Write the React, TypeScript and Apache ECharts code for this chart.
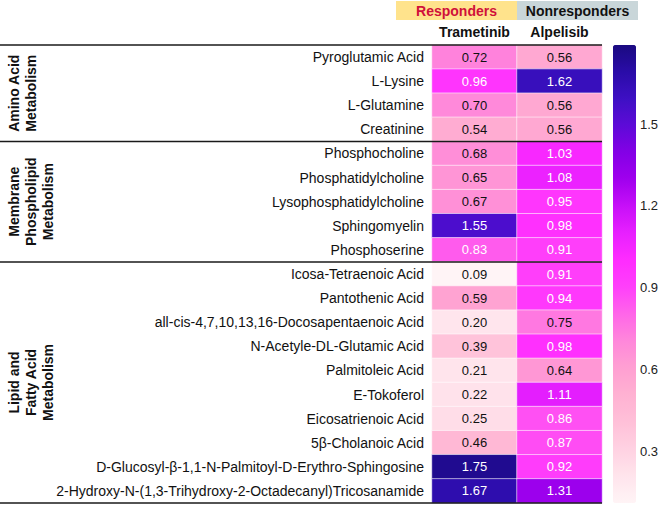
import React, { useEffect, useRef } from 'react';
import * as echarts from 'echarts';

const metabolites = [
  'Pyroglutamic Acid',
  'L-Lysine',
  'L-Glutamine',
  'Creatinine',
  'Phosphocholine',
  'Phosphatidylcholine',
  'Lysophosphatidylcholine',
  'Sphingomyelin',
  'Phosphoserine',
  'Icosa-Tetraenoic Acid',
  'Pantothenic Acid',
  'all-cis-4,7,10,13,16-Docosapentaenoic Acid',
  'N-Acetyle-DL-Glutamic Acid',
  'Palmitoleic Acid',
  'E-Tokoferol',
  'Eicosatrienoic Acid',
  '5β-Cholanoic Acid',
  'D-Glucosyl-β-1,1-N-Palmitoyl-D-Erythro-Sphingosine',
  '2-Hydroxy-N-(1,3-Trihydroxy-2-Octadecanyl)Tricosanamide',
];
const trametinib = [0.72, 0.96, 0.70, 0.54, 0.68, 0.65, 0.67, 1.55, 0.83, 0.09, 0.59, 0.20, 0.39, 0.21, 0.22, 0.25, 0.46, 1.75, 1.67];
const alpelisib = [0.56, 1.62, 0.56, 0.56, 1.03, 1.08, 0.95, 0.98, 0.91, 0.91, 0.94, 0.75, 0.98, 0.64, 1.11, 0.86, 0.87, 0.92, 1.31];
const drugs = ['Trametinib', 'Alpelisib'];
const groupLines = [
  ['Amino Acid', 'Metabolism'],
  ['Membrane', 'Phospholipid', 'Metabolism'],
  ['Lipid and', 'Fatty Acid', 'Metabolism'],
];
const groupSizes = [4, 5, 10];
const headerNames = ['Responders', 'Nonresponders'];
const colorTicks = [0.3, 0.6, 0.9, 1.2, 1.5];
const scaleMin = 0.11;
const scaleMax = 1.79;
const palette = [
  '#fff4f6', '#ffe4ec', '#ffd2e2', '#ffc0d8', '#ffb2d2', '#ffa0d2',
  '#ff88da', '#ff66e8', '#ff40fa', '#ff2cff', '#e820ff', '#c810f8',
  '#a000ee', '#8400e6', '#5e0ad8', '#3e10c4', '#2a0ca8', '#1a0a80',
];

const FONT = '"Liberation Sans", Arial, Helvetica, sans-serif';

export default function App() {
  const ref = useRef<HTMLDivElement>(null);

  useEffect(() => {
    document.body.style.margin = '0';
    if (!ref.current) return;
    const chart = echarts.init(ref.current, undefined, { renderer: 'svg' });

    const gridLeft = 432;
    const gridTop = 45;
    const gridW = 170;
    const gridH = 458;
    const rowH = gridH / metabolites.length;

    const data: any[] = [];
    const series = [trametinib, alpelisib];
    series.forEach((vals, xi) => {
      vals.forEach((v, yi) => {
        data.push({
          value: [xi, yi, v],
          label: { color: v > 0.8 ? '#ffffff' : '#111111' },
        });
      });
    });

    const graphics: any[] = [];
    graphics.push({ type: 'rect', shape: { x: 396, y: 1, width: 121, height: 19 }, style: { fill: '#ffe38c' } });
    graphics.push({ type: 'rect', shape: { x: 517, y: 1, width: 121, height: 19 }, style: { fill: '#c9d6d9' } });
    graphics.push({
      type: 'text', x: 456.5, y: 11,
      style: { text: headerNames[0], fill: '#d0103a', font: `bold 14px ${FONT}`, textAlign: 'center', textVerticalAlign: 'middle' },
    });
    graphics.push({
      type: 'text', x: 577.5, y: 11,
      style: { text: headerNames[1], fill: '#111', font: `bold 14px ${FONT}`, textAlign: 'center', textVerticalAlign: 'middle' },
    });

    let start = 0;
    const lineYs = [gridTop];
    groupSizes.forEach((n, gi) => {
      const y0 = gridTop + start * rowH;
      const y1 = gridTop + (start + n) * rowH;
      lineYs.push(y1);
      groupLines[gi].forEach((t, li) => {
        graphics.push({
          type: 'text',
          x: 14 + li * 17,
          y: (y0 + y1) / 2,
          rotation: Math.PI / 2,
          style: {
            text: t,
            fill: '#111',
            font: `bold 14px ${FONT}`,
            textAlign: 'center',
            textVerticalAlign: 'middle',
          },
        });
      });
      start += n;
    });
    lineYs.forEach((y) => {
      graphics.push({
        type: 'line',
        shape: { x1: 0, y1: y, x2: gridLeft + gridW, y2: y },
        style: { stroke: '#1a1a1a', lineWidth: 1.5 },
        z: 100,
      });
    });

    const option: any = {
      animation: false,
      textStyle: { fontFamily: FONT },
      grid: [
        { left: gridLeft, top: gridTop, width: gridW, height: gridH },
        { left: 613, top: gridTop, width: 23, height: gridH },
      ],
      xAxis: [
        {
          type: 'category',
          data: drugs,
          gridIndex: 0,
          position: 'top',
          axisLine: { show: false },
          axisTick: { show: false },
          axisLabel: { color: '#111', fontWeight: 'bold', fontSize: 14, margin: 6, interval: 0, fontFamily: FONT },
          splitLine: { show: false },
        },
        { type: 'value', gridIndex: 1, show: false },
      ],
      yAxis: [
        {
          type: 'category',
          data: metabolites,
          gridIndex: 0,
          inverse: true,
          axisLine: { show: false },
          axisTick: { show: false },
          axisLabel: { color: '#111', fontSize: 14, margin: 8, interval: 0, fontFamily: FONT },
          splitLine: { show: false },
        },
        {
          type: 'value',
          gridIndex: 1,
          position: 'right',
          min: scaleMin,
          max: scaleMax,
          axisLine: { show: false },
          axisTick: { show: true, length: 3, customValues: colorTicks, lineStyle: { color: '#333' } },
          axisLabel: {
            show: true,
            customValues: colorTicks,
            color: '#222',
            fontSize: 13,
            margin: 4,
            fontFamily: FONT,
            formatter: (v: number) => v.toFixed(1),
          },
          splitLine: { show: false },
        },
      ],
      visualMap: {
        type: 'continuous',
        min: scaleMin,
        max: scaleMax,
        seriesIndex: 0,
        calculable: false,
        left: 613,
        top: gridTop,
        itemWidth: 23,
        itemHeight: gridH,
        padding: 0,
        text: null,
        showLabel: false,
        inRange: { color: palette },
        outOfRange: { color: palette },
      },
      series: [
        {
          type: 'heatmap',
          xAxisIndex: 0,
          yAxisIndex: 0,
          data,
          label: {
            show: true,
            fontSize: 13,
            fontFamily: FONT,
            formatter: (p: any) => p.value[2].toFixed(2),
          },
          itemStyle: { borderColor: 'rgba(255,255,255,0.55)', borderWidth: 1 },
        },
      ],
      graphic: graphics,
    };

    chart.setOption(option);
    return () => chart.dispose();
  }, []);

  return <div ref={ref} style={{ width: 661, height: 506 }} />;
}
